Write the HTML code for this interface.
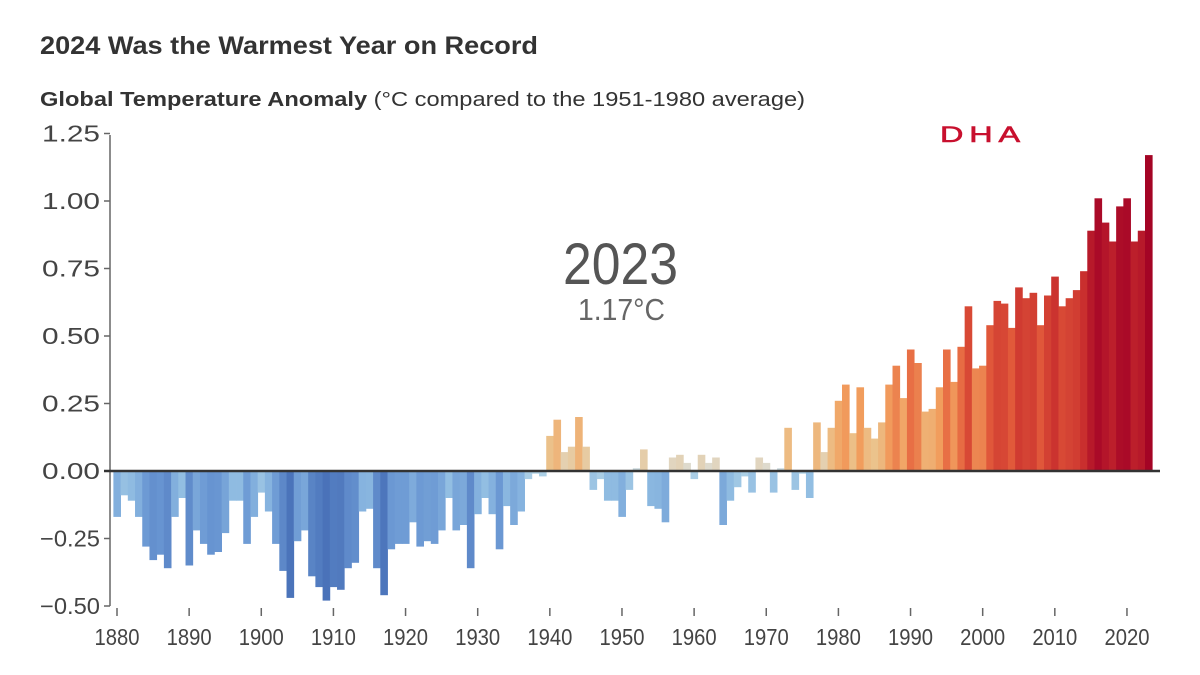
<!DOCTYPE html>
<html><head><meta charset="utf-8"><style>
html,body{margin:0;padding:0;background:#fff;width:1200px;height:675px;overflow:hidden}
svg{display:block;font-family:"Liberation Sans",sans-serif}
</style></head><body>
<svg id="s" width="1200" height="675" viewBox="0 0 1200 675">
<text x="40" y="54" font-size="25" font-weight="bold" fill="#333" textLength="498" lengthAdjust="spacingAndGlyphs">2024 Was the Warmest Year on Record</text>
<text x="40" y="106" font-size="20" fill="#333" textLength="765" lengthAdjust="spacingAndGlyphs"><tspan font-weight="bold">Global Temperature Anomaly</tspan> (°C compared to the 1951-1980 average)</text>
<text x="940" y="142" font-size="22" fill="#c8102e" stroke="#c8102e" stroke-width="0.6" letter-spacing="4" textLength="86" lengthAdjust="spacingAndGlyphs">DHA</text>
<text x="563" y="284" font-size="58" fill="#555" textLength="115" lengthAdjust="spacingAndGlyphs">2023</text>
<text x="578" y="320" font-size="31" fill="#666" textLength="87" lengthAdjust="spacingAndGlyphs">1.17°C</text>
<g id="bars"></g>
<g id="ax" stroke="#666" stroke-width="1.5"></g>
<g id="lab" font-size="23" fill="#444"></g>
</svg>
<script>
var v=[-0.17,-0.09,-0.11,-0.17,-0.28,-0.33,-0.31,-0.36,-0.17,-0.10,-0.35,-0.22,-0.27,-0.31,-0.30,-0.23,-0.11,-0.11,-0.27,-0.17,-0.08,-0.15,-0.27,-0.37,-0.47,-0.26,-0.22,-0.39,-0.43,-0.48,-0.43,-0.44,-0.36,-0.34,-0.15,-0.14,-0.36,-0.46,-0.29,-0.27,-0.27,-0.19,-0.28,-0.26,-0.27,-0.22,-0.10,-0.22,-0.20,-0.36,-0.16,-0.10,-0.16,-0.29,-0.13,-0.20,-0.15,-0.03,-0.01,-0.02,0.13,0.19,0.07,0.09,0.20,0.09,-0.07,-0.03,-0.11,-0.11,-0.17,-0.07,0.01,0.08,-0.13,-0.14,-0.19,0.05,0.06,0.03,-0.03,0.06,0.03,0.05,-0.20,-0.11,-0.06,-0.02,-0.08,0.05,0.03,-0.08,0.01,0.16,-0.07,-0.01,-0.10,0.18,0.07,0.16,0.26,0.32,0.14,0.31,0.16,0.12,0.18,0.32,0.39,0.27,0.45,0.40,0.22,0.23,0.31,0.45,0.33,0.46,0.61,0.38,0.39,0.54,0.63,0.62,0.53,0.68,0.64,0.66,0.54,0.65,0.72,0.61,0.64,0.67,0.74,0.89,1.01,0.92,0.85,0.98,1.01,0.85,0.89,1.17];
var stops=[[-0.5,[70,110,182]],[-0.3,[105,150,210]],[-0.12,[140,185,225]],[-0.01,[175,210,230]],[0.03,[222,218,205]],[0.12,[235,195,140]],[0.3,[242,160,95]],[0.5,[228,95,60]],[0.75,[200,45,45]],[1.0,[170,10,40]],[1.3,[160,0,35]]];
function col(x){for(var i=0;i<stops.length-1;i++){var a=stops[i],b=stops[i+1];if(x<=b[0]||i==stops.length-2){var t=Math.max(0,Math.min(1,(x-a[0])/(b[0]-a[0])));var c=a[1].map(function(q,k){return Math.round(q+(b[1][k]-q)*t)});return 'rgb('+c+')';}}}
var ns="http://www.w3.org/2000/svg";
function el(p,t,at,txt){var e=document.createElementNS(ns,t);for(var k in at)e.setAttribute(k,at[k]);if(txt)e.textContent=txt;document.getElementById(p).appendChild(e);return e;}
var y0=471,sc=270,px=7.214,x0=117;
v.forEach(function(d,i){var x=x0+i*px-px/2;var h=Math.abs(d)*sc;el('bars','rect',{x:x.toFixed(2),y:(d>0?y0-h:y0).toFixed(2),width:(px+0.4).toFixed(2),height:h.toFixed(2),fill:col(d)});});
el('ax','line',{x1:110,y1:135,x2:110,y2:606});
[1.25,1,0.75,0.5,0.25,0,-0.25,-0.5].forEach(function(t){var y=y0-t*sc;el('ax','line',{x1:104,y1:y,x2:110,y2:y});el('lab','text',{x:100,y:y+8,'text-anchor':'end',textLength:t<0?60:58,lengthAdjust:'spacingAndGlyphs'},(t<0?'\u2212':'')+Math.abs(t).toFixed(2));});
el('ax','line',{x1:104,y1:y0,x2:1160,y2:y0,stroke:'#333','stroke-width':2.5});
for(var yr=1880;yr<=2020;yr+=10){var x=x0+(yr-1880)*px;el('ax','line',{x1:x,y1:608,x2:x,y2:616});el('lab','text',{x:x,y:645,'text-anchor':'middle',textLength:45,lengthAdjust:'spacingAndGlyphs'},yr);}
</script>
</body></html>
